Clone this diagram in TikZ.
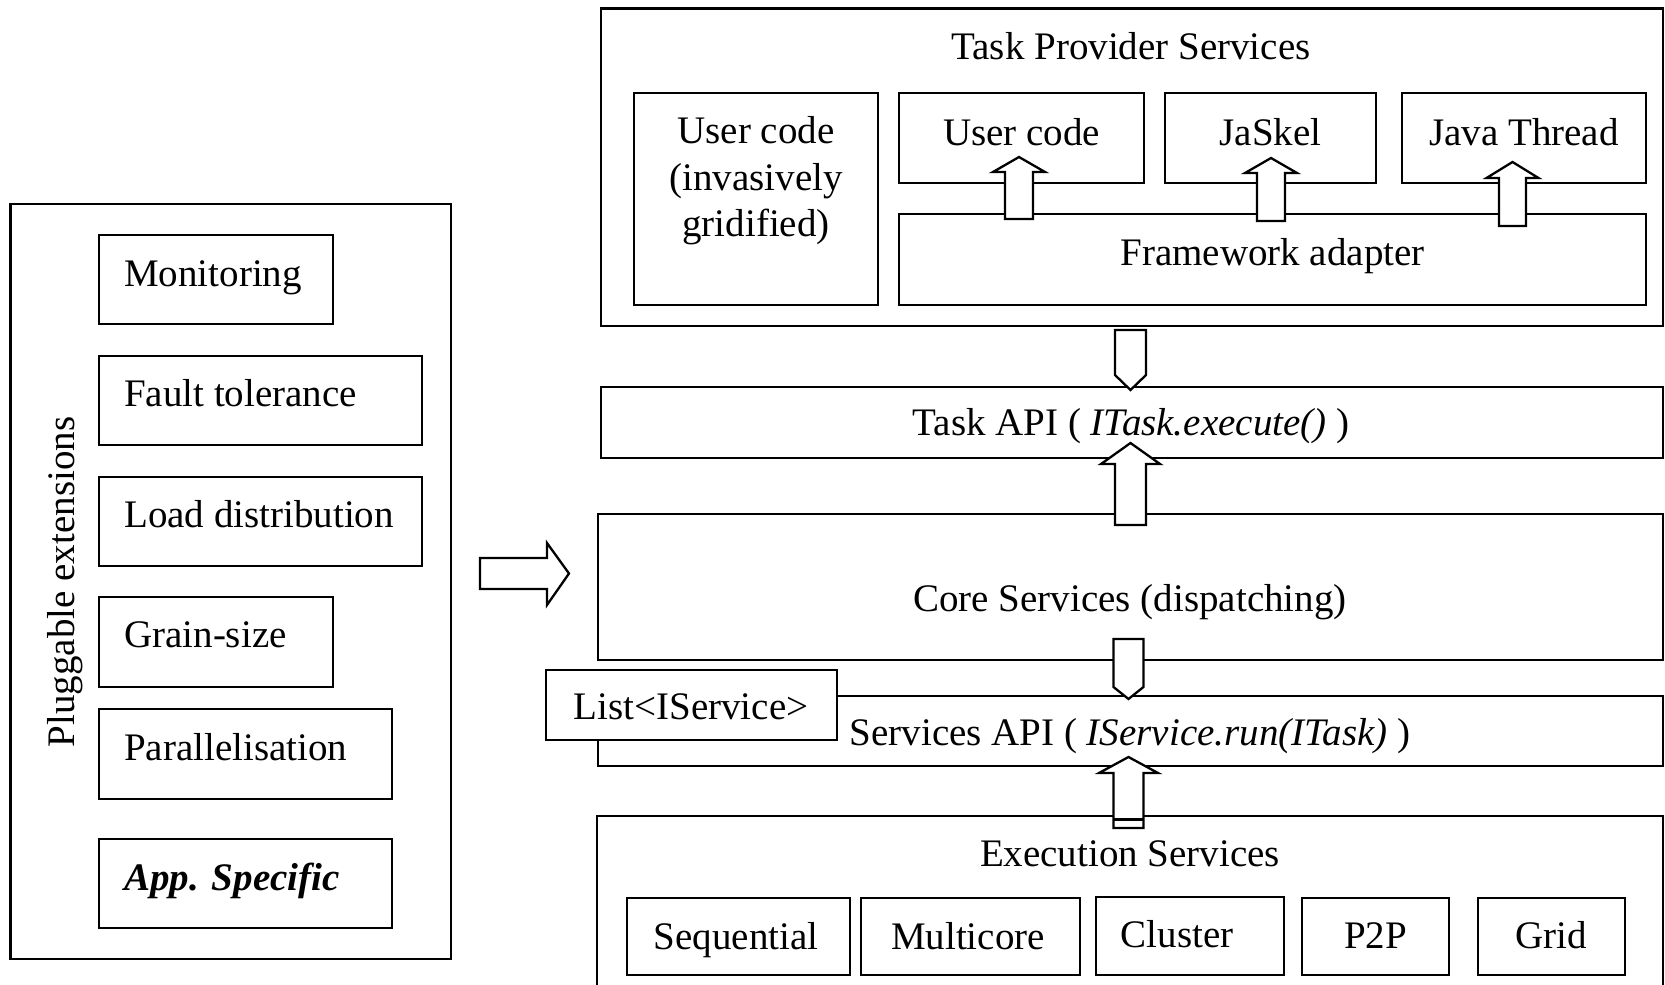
\documentclass[tikz,border=0pt]{standalone}
\usepackage{fontspec}
\setmainfont{Liberation Serif}
\usetikzlibrary{fit}
\tikzset{
  box/.style={draw, line width=2.3pt, inner sep=0pt, fill=white},
  barrow/.style={draw, line width=2.3pt, fill=white, line join=miter},
  lbl/.style={inner sep=0pt, font=\fontsize{39}{46.6}\selectfont, text height=27pt, text depth=8pt},
}
\newcommand\bx[5]{\node[box, fit={(#2,#3) (#4,#5)}] (#1) {};}
% up block arrow: x, half body, half head, tip, base, bottom
\newcommand\uparr[6]{\path[barrow] (#1-#2,#6) -- (#1-#2,#5) -- (#1-#3,#5) -- (#1,#4) -- (#1+#3,#5) -- (#1+#2,#5) -- (#1+#2,#6) -- cycle;}
% down block arrow: x, half, top, shoulder, tip
\newcommand\dnarr[5]{\path[barrow] (#1-#2,#3) -- (#1+#2,#3) -- (#1+#2,#4) -- (#1,#5) -- (#1-#2,#4) -- cycle;}
\begin{document}
\begin{tikzpicture}[x=1pt,y=-1pt]
\useasboundingbox (0,0) rectangle (1665,985);
\clip (0,0) rectangle (1665,985);
\fill[white] (0,0) rectangle (1665,985);
% ---------- left panel ----------
\bx{ext}{10.6}{204}{451}{959}
\bx{mon}{99}{235}{333}{324}
\bx{fault}{99}{356}{422}{445}
\bx{load}{99}{477}{422}{566}
\bx{grain}{99}{597}{333}{687}
\bx{par}{99}{709}{392}{799}
\bx{app}{99}{839}{392}{928}
\node[lbl, anchor=west] (tmon) at (124,277) {Monitoring};
\node[lbl, anchor=west] (tfault) at (124,397) {Fault tolerance};
\node[lbl, anchor=west] (tload) at (124,518) {Load distribution};
\node[lbl, anchor=west] (tgrain) at (124,638) {Grain-size};
\node[lbl, anchor=west] (tpar) at (124,751) {Parallelisation};
\node[lbl, anchor=west, font=\fontsize{39}{46.6}\selectfont\bfseries\itshape] (tapp) at (124,881) {App. Specific};
\node[lbl, rotate=90] (tplug) at (65,582) {Pluggable extensions};
% right-pointing block arrow
\path[barrow] (480,558) -- (547,558) -- (547,543) -- (569,573.5) -- (547,605) -- (547,589) -- (480,589) -- cycle;
% ---------- right stack ----------
\bx{tps}{601}{8.5}{1663}{326}
\bx{uci}{634}{93}{878}{305}
\bx{uc}{899}{93}{1144}{183}
\bx{jas}{1165}{93}{1376}{183}
\bx{jt}{1402}{93}{1646}{183}
\bx{fw}{899}{214}{1646}{305}
\bx{tapi}{601}{387}{1663}{458}
\bx{core}{598}{514}{1663}{660}
\bx{sapi}{598}{696}{1663}{766}
\bx{exec}{597}{816}{1663}{1000}
\bx{seq}{627}{898}{850}{975}
\bx{multi}{861}{898}{1080}{975}
\bx{clus}{1096}{897}{1284}{975}
\bx{ptp}{1302}{898}{1449}{975}
\bx{grid}{1478}{898}{1625}{975}
% block arrows
\uparr{1019}{14}{26}{157}{172}{219}
\uparr{1271}{14}{26}{158}{173}{221}
\uparr{1512.5}{13.5}{26}{162}{178}{226}
\dnarr{1130.5}{15.5}{330}{375}{390}
\uparr{1130.5}{15.5}{29.5}{443}{464}{525}
\dnarr{1128.5}{15}{639}{687}{699}
\uparr{1128.5}{15}{29.5}{757}{773}{828}
\draw[line width=3pt] (1113.5,819) -- (1143.5,819);
% List box on top
\bx{list}{546}{670}{837}{740}
% texts
\node[lbl] (ttps) at (1131,50) {Task Provider Services};
\node[lbl, align=center, text height=, text depth=] (tuci) at (756,181) {User code\\(invasively\\gridified)};
\node[lbl] (tuc) at (1021.5,136) {User code};
\node[lbl] (tjas) at (1270.5,136) {JaSkel};
\node[lbl] (tjt) at (1524,136) {Java Thread};
\node[lbl] (tfw) at (1272.5,256) {Framework adapter};
\node[lbl] (ttapi) at (1131,426) {Task API ( \textit{ITask.execute()} )};
\node[lbl] (tcore) at (1130,602) {Core Services (dispatching)};
\node[lbl] (tlist) at (691,710) {List<IService>};
\node[lbl] (tsapi) at (1130,736) {Services API ( \textit{IService.run(ITask)} )};
\node[lbl] (texec) at (1130,857) {Execution Services};
\node[lbl] (tseq) at (736,940) {Sequential};
\node[lbl] (tmulti) at (968,940) {Multicore};
\node[lbl] (tclus) at (1177,938) {Cluster};
\node[lbl] (tptp) at (1375.5,939) {P2P};
\node[lbl] (tgrid) at (1551.5,939) {Grid};
\end{tikzpicture}
\end{document}
